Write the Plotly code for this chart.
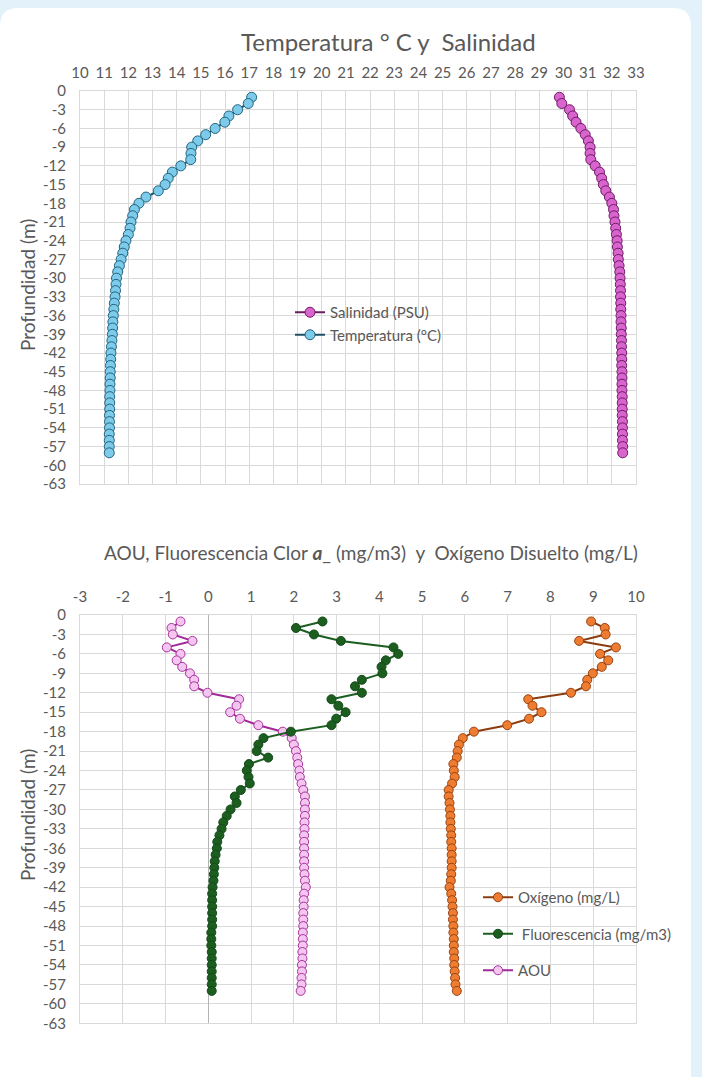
import plotly.graph_objects as go

# Depth profile (m), one reading per metre
profundidad = [-d for d in range(1, 59)]

temperatura = [17.10, 16.96, 16.52, 16.16, 15.99, 15.59, 15.20, 14.87, 14.62, 14.59,
               14.58, 14.17, 13.82, 13.65, 13.52, 13.24, 12.73, 12.44, 12.25, 12.18,
               12.11, 12.07, 12.00, 11.90, 11.83, 11.77, 11.70, 11.63, 11.56, 11.51,
               11.49, 11.47, 11.45, 11.42, 11.40, 11.38, 11.36, 11.35, 11.34, 11.32,
               11.30, 11.28, 11.27, 11.26, 11.25, 11.25, 11.24, 11.24, 11.23, 11.23,
               11.23, 11.22, 11.22, 11.22, 11.21, 11.21, 11.21, 11.21]

salinidad = [29.83, 29.93, 30.25, 30.38, 30.52, 30.72, 30.90, 31.03, 31.10, 31.10,
             31.13, 31.31, 31.49, 31.58, 31.65, 31.75, 31.90, 32.00, 32.07, 32.09,
             32.13, 32.16, 32.19, 32.22, 32.23, 32.26, 32.27, 32.30, 32.33, 32.34,
             32.35, 32.36, 32.36, 32.37, 32.37, 32.38, 32.38, 32.39, 32.39, 32.40,
             32.40, 32.41, 32.41, 32.41, 32.42, 32.42, 32.42, 32.42, 32.43, 32.43,
             32.43, 32.43, 32.44, 32.44, 32.44, 32.44, 32.45, 32.45]

oxigeno = [8.95, 9.27, 9.29, 8.67, 9.53, 9.16, 9.35, 9.20, 8.99, 8.86,
           8.83, 8.48, 7.48, 7.58, 7.79, 7.50, 6.99, 6.21, 5.95, 5.86,
           5.83, 5.81, 5.73, 5.74, 5.76, 5.70, 5.62, 5.62, 5.64, 5.65,
           5.66, 5.66, 5.67, 5.68, 5.68, 5.69, 5.69, 5.69, 5.69, 5.68,
           5.67, 5.64, 5.68, 5.70, 5.71, 5.72, 5.72, 5.73, 5.73, 5.74,
           5.74, 5.74, 5.75, 5.75, 5.76, 5.77, 5.78, 5.81]

fluorescencia = [2.67, 2.05, 2.47, 3.10, 4.33, 4.44, 4.15, 4.05, 4.07, 3.59,
                 3.43, 3.59, 2.88, 3.04, 3.21, 2.99, 2.88, 1.93, 1.29, 1.17,
                 1.13, 1.40, 0.95, 0.90, 0.94, 0.97, 0.76, 0.62, 0.66, 0.52,
                 0.43, 0.35, 0.31, 0.26, 0.21, 0.20, 0.17, 0.15, 0.14, 0.13,
                 0.12, 0.10, 0.09, 0.09, 0.09, 0.09, 0.09, 0.09, 0.07, 0.07,
                 0.07, 0.08, 0.08, 0.08, 0.08, 0.08, 0.08, 0.08]

aou = [-0.65, -0.86, -0.83, -0.37, -0.97, -0.65, -0.74, -0.61, -0.43, -0.33,
       -0.33, -0.02, 0.72, 0.66, 0.51, 0.74, 1.17, 1.74, 1.95, 2.00,
       2.05, 2.08, 2.10, 2.13, 2.14, 2.18, 2.22, 2.26, 2.26, 2.26,
       2.26, 2.25, 2.25, 2.24, 2.24, 2.24, 2.24, 2.24, 2.24, 2.25,
       2.26, 2.28, 2.24, 2.23, 2.23, 2.22, 2.22, 2.22, 2.21, 2.21,
       2.21, 2.20, 2.20, 2.19, 2.19, 2.18, 2.18, 2.16]

x_ticks_top = list(range(10, 34))
x_ticks_bottom = list(range(-3, 11))
y_ticks = list(range(0, -64, -3))

W, H = 702, 1077
FONT = "Lato, 'Open Sans', sans-serif"
TXT = "#595959"
GRID = "#d9d9d9"


def px_x(p):
    return p / W


def px_y(p):
    return 1 - p / H


fig = go.Figure()

# Upper panel: temperature and salinity
fig.add_trace(go.Scatter(
    x=salinidad, y=profundidad, name="Salinidad (PSU)", mode="lines+markers",
    line=dict(color="#6e1c62", width=2),
    marker=dict(size=10, color="#d964cf", line=dict(color="#6e1c62", width=1)),
    xaxis="x", yaxis="y", legend="legend", legendrank=1))
fig.add_trace(go.Scatter(
    x=temperatura, y=profundidad, name="Temperatura (°C)", mode="lines+markers",
    line=dict(color="#1f4f66", width=2),
    marker=dict(size=10, color="#7ccbea", line=dict(color="#23637e", width=1)),
    xaxis="x", yaxis="y", legend="legend", legendrank=2))

# Lower panel: AOU, chlorophyll fluorescence and dissolved oxygen
fig.add_trace(go.Scatter(
    x=aou, y=profundidad, name="AOU", mode="lines+markers", legendgroup="aou",
    line=dict(color="#a12a98", width=2),
    marker=dict(size=9, color="#f4c6ef", line=dict(color="#a8329f", width=1)),
    xaxis="x2", yaxis="y2", legend="legend2", legendrank=3))
fig.add_trace(go.Scatter(
    x=fluorescencia, y=profundidad, name="\u00a0Fluorescencia (mg/m3)", mode="lines+markers",
    legendgroup="flu",
    line=dict(color="#1b5e20", width=2),
    marker=dict(size=9, color="#1b5e20", line=dict(color="#144a18", width=1)),
    xaxis="x2", yaxis="y2", legend="legend2", legendrank=2))
fig.add_trace(go.Scatter(
    x=oxigeno, y=profundidad, name="Oxígeno (mg/L)", mode="lines+markers", legendgroup="oxi",
    line=dict(color="#8c3d0f", width=2),
    marker=dict(size=9, color="#ee7d31", line=dict(color="#9a4210", width=1)),
    xaxis="x2", yaxis="y2", legend="legend2", legendrank=1))

x_dom = [px_x(80), px_x(636)]
top_dom = [px_y(484), px_y(91)]
bot_dom = [px_y(1023.3), px_y(615)]

common_x = dict(side="top", showgrid=True, gridcolor=GRID, gridwidth=1,
                showline=True, linecolor=GRID, mirror=True, ticks="",
                ticklabelstandoff=6, automargin=False,
                tickfont=dict(family=FONT, size=15, color=TXT), fixedrange=True)
common_y = dict(showgrid=True, gridcolor=GRID, gridwidth=1, range=[-63, 0],
                showline=True, linecolor=GRID, mirror=True, ticks="",
                ticklabelstandoff=10, automargin=False,
                tickvals=y_ticks, ticktext=[str(v) for v in y_ticks],
                tickfont=dict(family=FONT, size=15, color=TXT), zeroline=False,
                fixedrange=True)

fig.update_layout(
    template="none",
    width=W, height=H,
    margin=dict(l=0, r=0, t=0, b=0, autoexpand=False),
    paper_bgcolor="#e3f1fb",
    plot_bgcolor="rgba(0,0,0,0)",
    font=dict(family=FONT, color=TXT),
    showlegend=True,
    xaxis=dict(domain=x_dom, anchor="y", range=[10, 33],
               tickvals=x_ticks_top, ticktext=[str(v) for v in x_ticks_top],
               zeroline=False, **common_x),
    yaxis=dict(domain=top_dom, anchor="x", **common_y),
    xaxis2=dict(domain=x_dom, anchor="y2", range=[-3, 10],
                tickvals=x_ticks_bottom, ticktext=[str(v) for v in x_ticks_bottom],
                zeroline=True, zerolinecolor="#b3b3b3", zerolinewidth=1, **common_x),
    yaxis2=dict(domain=bot_dom, anchor="x2", **common_y),
    legend=dict(x=px_x(290), y=px_y(296), xanchor="left", yanchor="top",
                bgcolor="rgba(0,0,0,0)", font=dict(family=FONT, size=15, color=TXT),
                itemwidth=30),
    legend2=dict(x=px_x(478), y=px_y(881), xanchor="left", yanchor="top",
                 bgcolor="rgba(0,0,0,0)", font=dict(family=FONT, size=15, color=TXT),
                 traceorder="grouped", tracegroupgap=14, itemwidth=30),
)

# White rounded card behind both panels
r = 18
cx0, cx1, cy0, cy1 = 0, 691, 8, 1110
rx, ry = r / W, r / H
X0, X1 = px_x(cx0), px_x(cx1)
Y0, Y1 = px_y(cy0), px_y(cy1)
card = (f"M {X0 + rx},{Y0} L {X1 - rx},{Y0} Q {X1},{Y0} {X1},{Y0 - ry} "
        f"L {X1},{Y1 + ry} Q {X1},{Y1} {X1 - rx},{Y1} L {X0 + rx},{Y1} "
        f"Q {X0},{Y1} {X0},{Y1 + ry} L {X0},{Y0 - ry} Q {X0},{Y0} {X0 + rx},{Y0} Z")
fig.add_shape(type="path", path=card, xref="paper", yref="paper",
              fillcolor="#ffffff", line=dict(width=0), layer="below")

label = dict(xref="paper", yref="paper", showarrow=False,
             xanchor="center", yanchor="middle")
fig.add_annotation(text="Temperatura ° C y \u00a0Salinidad", x=px_x(388), y=px_y(42),
                   font=dict(family=FONT, size=24, color=TXT), **label)
fig.add_annotation(text="AOU, Fluorescencia Clor <b><i>a</i></b>_ (mg/m3) \u00a0y \u00a0Oxígeno Disuelto (mg/L)",
                   x=px_x(371), y=px_y(553),
                   font=dict(family=FONT, size=19, color=TXT), **label)
for yc in (285, 815):
    fig.add_annotation(text="Profundidad (m)", x=px_x(27), y=px_y(yc), textangle=-90,
                       font=dict(family=FONT, size=19, color=TXT), **label)

fig.write_html("out.html")
